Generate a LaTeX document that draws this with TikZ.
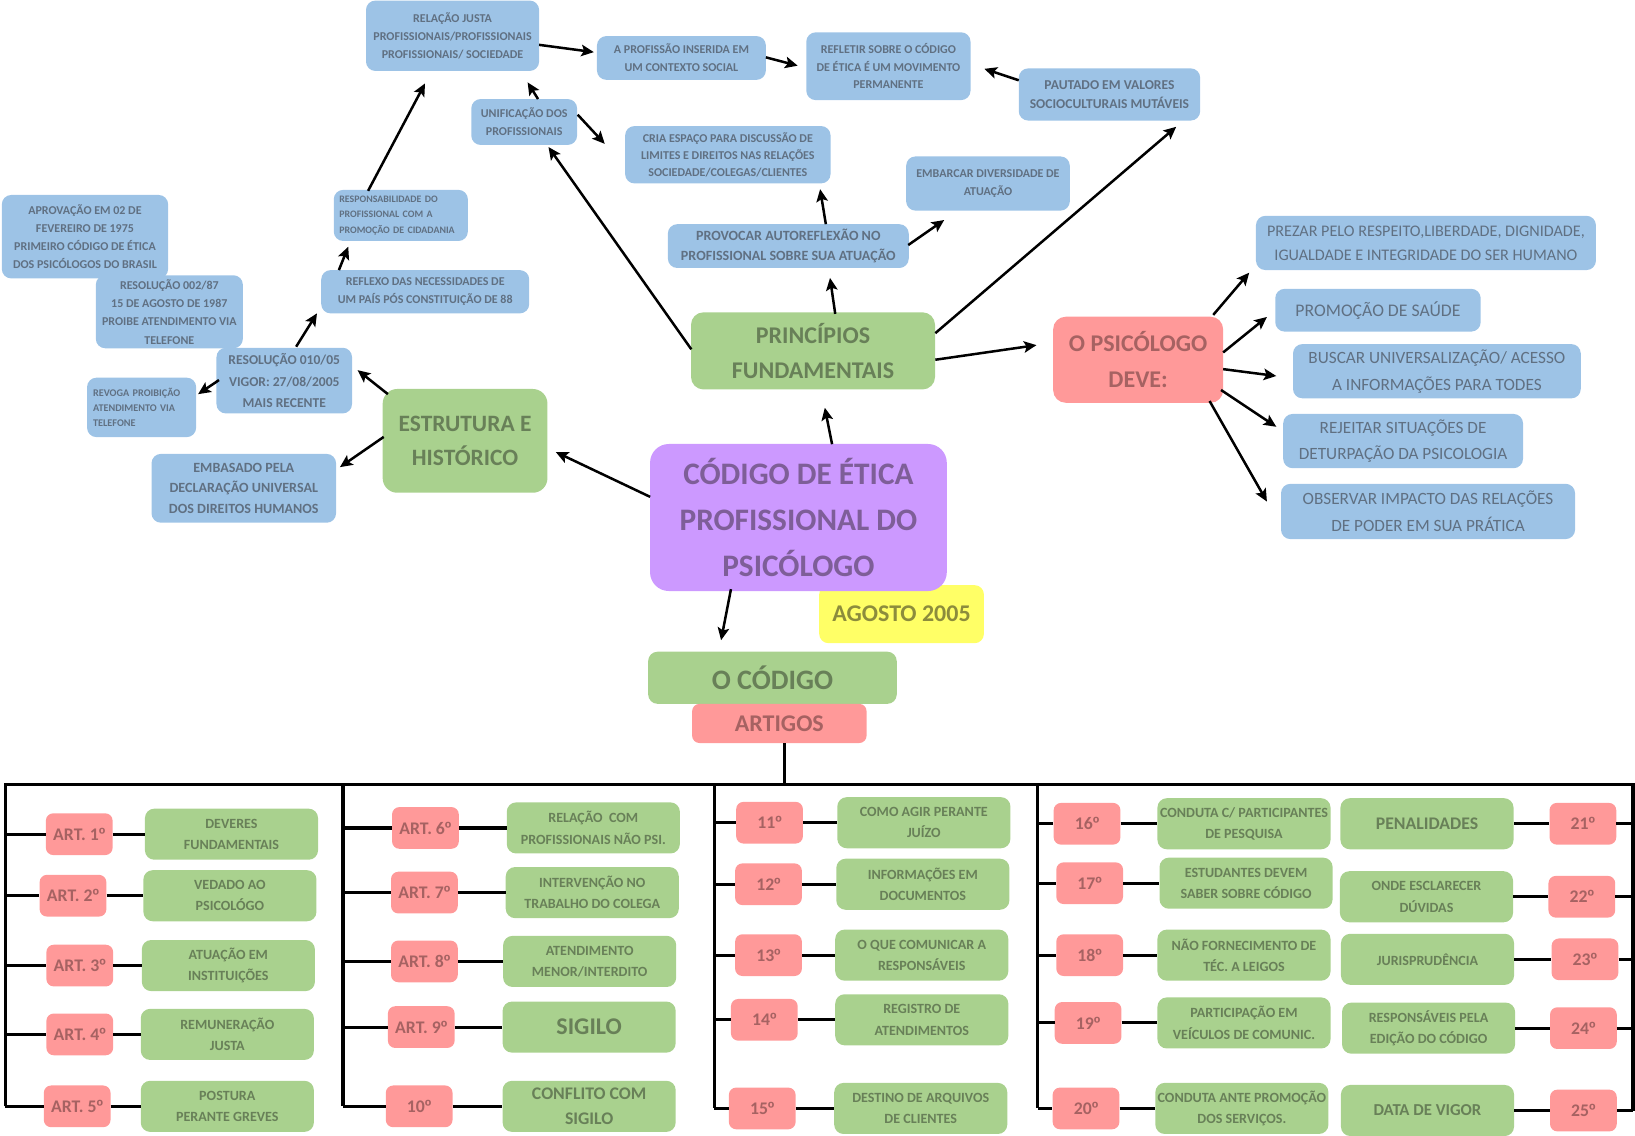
\documentclass[tikz,border=0pt]{standalone}
\usepackage{fontspec}
\setmainfont{Carlito}
\newfontfamily\ordfont{Liberation Sans}
\usepackage{tikz}
\usetikzlibrary{arrows.meta,calc}

\definecolor{azul}{RGB}{157,195,230}
\definecolor{azulT}{RGB}{96,112,130}
\definecolor{verde}{RGB}{169,209,142}
\definecolor{verdeT}{RGB}{104,128,88}
\definecolor{rosa}{RGB}{255,153,153}
\definecolor{rosaT}{RGB}{166,98,98}
\definecolor{lilas}{RGB}{204,153,255}
\definecolor{lilasT}{RGB}{126,94,152}
\definecolor{amarelo}{RGB}{255,255,102}
\definecolor{amareloT}{RGB}{140,140,60}

\newcommand{\fsz}[2]{\fontsize{#1}{#2}\selectfont}
\newcommand{\ordm}{{\ordfont º}}

\begin{document}
\begin{tikzpicture}[x=1pt,y=1pt,yscale=-1,
  caixa/.style={rounded corners=9pt, align=center, inner sep=0pt},
  tam/.style 2 args={minimum width=#1, minimum height=#2},
  azulbox/.style={caixa, fill=azul, text=azulT},
  verdebox/.style={caixa, fill=verde, text=verdeT},
  rosabox/.style={caixa, fill=rosa, text=rosaT},
  art/.style={rosabox, tam={64}{40}, rounded corners=7pt, font=\fsz{17}{20}\bfseries},
  desc/.style={verdebox, tam={166}{49}, font=\fsz{13.5}{20.5}\bfseries},
  seta/.style={line width=2.4pt, -{Stealth[length=12pt,width=11pt,inset=2.5pt]}},
  ramo/.style={line width=3pt}]
\useasboundingbox (0,0) rectangle (1568,1089);

%Shape: blue boxes, top
\node[azulbox, tam={166}{67.5}, font=\fsz{11.5}{17.5}\bfseries] (relacao) at (434,34.3) {RELAÇÃO JUSTA\\PROFISSIONAIS/PROFISSIONAIS\\PROFISSIONAIS/ SOCIEDADE};
\node[azulbox, tam={162}{42}, font=\fsz{11.5}{17}\bfseries] (profissao) at (653.5,55.6) {A PROFISSÃO INSERIDA EM\\UM CONTEXTO SOCIAL};
\node[azulbox, tam={157.5}{65}, font=\fsz{11.5}{17}\bfseries] (refletir) at (852,63.5) {REFLETIR SOBRE O CÓDIGO\\DE ÉTICA É UM MOVIMENTO\\PERMANENTE};
\node[azulbox, tam={174}{50}, font=\fsz{13}{18.5}\bfseries] (pautado) at (1064,90.6) {PAUTADO EM VALORES\\SOCIOCULTURAIS MUTÁVEIS};
\node[azulbox, tam={101.5}{44}, font=\fsz{11.5}{17.5}\bfseries] (unificacao) at (502.7,117) {UNIFICAÇÃO DOS\\PROFISSIONAIS};
\node[azulbox, tam={197}{55}, font=\fsz{11.5}{16}\bfseries] (criaespaco) at (698,148.4) {CRIA ESPAÇO PARA DISCUSSÃO DE\\LIMITES E DIREITOS NAS RELAÇÕES\\SOCIEDADE/COLEGAS/CLIENTES};
\node[azulbox, tam={157}{52}, font=\fsz{11.5}{17.3}\bfseries] (embarcar) at (947.5,176) {EMBARCAR DIVERSIDADE DE\\ATUAÇÃO};
\node[azulbox, tam={231}{42}, font=\fsz{13.5}{18.5}\bfseries] (provocar) at (756,236) {PROVOCAR AUTOREFLEXÃO NO\\PROFISSIONAL SOBRE SUA ATUAÇÃO};

%Shape: blue boxes, left
\node[azulbox, tam={159.5}{80}, font=\fsz{11.5}{17.4}\bfseries] (aprovacao) at (81.5,227) {APROVAÇÃO EM 02 DE\\FEVEREIRO DE 1975\\PRIMEIRO CÓDIGO DE ÉTICA\\DOS PSICÓLOGOS DO BRASIL};
\node[azulbox, tam={141}{70}, font=\fsz{11.5}{17.6}\bfseries] (resolucao87) at (162.4,299) {RESOLUÇÃO 002/87\\15 DE AGOSTO DE 1987\\PROIBE ATENDIMENTO VIA\\TELEFONE};
\node[azulbox, align=left, text width=118, inner xsep=5.3, minimum height=49, font=\fsz{9.5}{14.6}\bfseries] (responsab) at (384.4,206.6) {RESPONSABILIDADE DO\\PROFISSIONAL COM A\\PROMOÇÃO DE CIDADANIA};
\node[azulbox, tam={199.5}{41.5}, font=\fsz{11.5}{17.6}\bfseries] (reflexo) at (407.8,279.8) {REFLEXO DAS NECESSIDADES DE\\UM PAÍS PÓS CONSTITUIÇÃO DE 88};
\node[azulbox, tam={130}{63}, font=\fsz{13}{20.6}\bfseries] (resolucao05) at (272.6,365) {RESOLUÇÃO 010/05\\VIGOR: 27/08/2005\\MAIS RECENTE};
\node[azulbox, align=left, text width=93, inner xsep=5.8, minimum height=57, font=\fsz{9.8}{14.8}\bfseries] (revoga) at (135.8,390.7) {REVOGA PROIBIÇÃO\\ATENDIMENTO VIA\\TELEFONE};
\node[azulbox, tam={177}{66}, font=\fsz{13.5}{20}\bfseries] (embasado) at (233.8,468.3) {EMBASADO PELA\\DECLARAÇÃO UNIVERSAL\\DOS DIREITOS HUMANOS};

%Shape: blue boxes, right
\node[azulbox, tam={326}{52}, font=\fsz{15.5}{23}] (prezar) at (1367.5,233) {PREZAR PELO RESPEITO,LIBERDADE, DIGNIDADE,\\IGUALDADE E INTEGRIDADE DO SER HUMANO};
\node[azulbox, tam={197}{41}, font=\fsz{17}{25}] (promocao) at (1321.5,297.5) {PROMOÇÃO DE SAÚDE};
\node[azulbox, tam={276}{52}, font=\fsz{16.5}{26}] (buscar) at (1378,356) {BUSCAR UNIVERSALIZAÇÃO/ ACESSO\\A INFORMAÇÕES PARA TODES};
\node[azulbox, tam={230}{52}, font=\fsz{16.5}{25.5}] (rejeitar) at (1345.6,423) {REJEITAR SITUAÇÕES DE\\DETURPAÇÃO DA PSICOLOGIA};
\node[azulbox, tam={282}{53}, font=\fsz{16.5}{25.5}] (observar) at (1369.5,490.5) {OBSERVAR IMPACTO DAS RELAÇÕES\\DE PODER EM SUA PRÁTICA};

%Shape: main boxes
\node[verdebox, tam={158}{99.5}, rounded corners=14pt, font=\fsz{22.5}{33}\bfseries] (estrutura) at (446,422.8) {ESTRUTURA E\\HISTÓRICO};
\node[verdebox, tam={234}{74}, rounded corners=12pt, font=\fsz{23}{34}\bfseries] (principios) at (779.7,336.5) {PRINCÍPIOS\\FUNDAMENTAIS};
\node[rosabox, tam={163}{82.5}, rounded corners=12pt, font=\fsz{23}{35}\bfseries] (psicologo) at (1091.5,345) {O PSICÓLOGO\\DEVE:};
\node[caixa, fill=amarelo, text=amareloT, tam={158}{55.7}, font=\fsz{23}{28}\bfseries] (agosto) at (864.6,589) {AGOSTO 2005};
\node[caixa, fill=lilas, text=lilasT, tam={284.6}{141}, rounded corners=18pt, font=\fsz{30}{44.3}\bfseries] (codigo) at (765.7,496.3) {CÓDIGO DE ÉTICA\\PROFISSIONAL DO\\PSICÓLOGO};
\node[verdebox, tam={238.4}{50}, font=\fsz{27}{30}\bfseries] (ocodigo) at (740.8,650) {O CÓDIGO};
\node[rosabox, tam={167.3}{37.5}, rounded corners=7pt, font=\fsz{23}{26}\bfseries] (artigos) at (747.4,693.8) {ARTIGOS};

%Straight Lines
\draw[seta] ($(relacao)+(83,8.7)$) -- ($(profissao)+(-84,-5.6)$);
\draw[seta] ($(profissao)+(81,-0.6)$) -- ($(refletir)+(-87,-0.5)$);
\draw[seta] ($(pautado)+(-87,-13.6)$) -- ($(refletir)+(92,2.5)$);
\draw[seta] ($(unificacao)+(13.3,-22)$) -- ($(relacao)+(72,44.7)$);
\draw[seta] ($(unificacao)+(51.3,-7)$) -- ($(criaespaco)+(-118,-10.4)$);
\draw[seta] ($(principios)+(-116.7,-1.5)$) -- ($(unificacao)+(23.3,24)$);
\draw[seta] ($(principios)+(21.3,-35.5)$) -- ($(provocar)+(40,30.5)$);
\draw[seta] ($(provocar)+(36,-21)$) -- ($(criaespaco)+(88.5,33)$);
\draw[seta] ($(provocar)+(115,-1)$) -- ($(embarcar)+(-42,35)$);
\draw[seta] ($(principios)+(117.3,-17)$) -- ($(pautado)+(64,31)$);
\draw[seta] ($(principios)+(117.3,8.5)$) -- ($(psicologo)+(-97.5,-14)$);
\draw[seta] ($(codigo)+(32.3,-70.3)$) -- ($(principios)+(11.3,54.5)$);
\draw[seta] ($(codigo)+(-142.2,-19.8)$) -- ($(estrutura)+(87,10.7)$);
\draw[seta] ($(codigo)+(-64.7,68.7)$) -- ($(ocodigo)+(-49.3,-36)$);
\draw[seta] ($(estrutura)+(-74,-44.8)$) -- ($(resolucao05)+(70.4,-10)$);
\draw[seta] ($(estrutura)+(-78,-3.8)$) -- ($(embasado)+(92.2,-20.3)$);
\draw[seta] ($(resolucao05)+(-62.6,-0.5)$) -- ($(revoga)+(54.2,-12.7)$);
\draw[seta] ($(resolucao05)+(11.4,-32.5)$) -- ($(reflexo)+(-103.8,20.7)$);
\draw[seta] ($(reflexo)+(-82.8,-20.8)$) -- ($(responsab)+(-50.4,30)$);
\draw[seta] ($(responsab)+(-31.4,-23.6)$) -- ($(relacao)+(-26.4,45.7)$);
\draw[seta] ($(psicologo)+(72,-43)$) -- ($(prezar)+(-169.5,28.5)$);
\draw[seta] ($(psicologo)+(81.5,-7)$) -- ($(promocao)+(-106.5,6.5)$);
\draw[seta] ($(psicologo)+(81.5,9)$) -- ($(buscar)+(-154,4.6)$);
\draw[seta] ($(psicologo)+(79.5,29)$) -- ($(rejeitar)+(-121.6,-13.7)$);
\draw[seta] ($(psicologo)+(68.5,39.6)$) -- ($(observar)+(-154.5,-9.5)$);

% Text Node: articles 1-5
\node[art] (a1) at (76,800) {ART. 1\ordm};
\node[desc] (d1) at (222,800) {DEVERES\\FUNDAMENTAIS};
\node[art] (a2) at (70,859) {ART. 2\ordm};
\node[desc] (d2) at (220.5,859) {VEDADO AO\\PSICOLÓGO};
\node[art] (a3) at (76.5,926) {ART. 3\ordm};
\node[desc] (d3) at (219,926) {ATUAÇÃO EM\\INSTITUIÇÕES};
\node[art] (a4) at (76.5,992) {ART. 4\ordm};
\node[desc] (d4) at (218,992) {REMUNERAÇÃO\\JUSTA};
\node[art] (a5) at (74,1061) {ART. 5\ordm};
\node[desc] (d5) at (218,1061) {POSTURA\\PERANTE GREVES};

% Text Node: articles 6-10
\node[art] (a6) at (408,794) {ART. 6\ordm};
\node[desc] (d6) at (569,794) {RELAÇÃO\ \ COM\\PROFISSIONAIS NÃO PSI.};
\node[art] (a7) at (407,856) {ART. 7\ordm};
\node[desc] (d7) at (568,856) {INTERVENÇÃO NO\\TRABALHO DO COLEGA};
\node[art] (a8) at (407,922) {ART. 8\ordm};
\node[desc] (d8) at (565.5,922) {ATENDIMENTO\\MENOR/INTERDITO};
\node[art] (a9) at (404,985) {ART. 9\ordm};
\node[desc, font=\fsz{23}{26}\bfseries] (d9) at (565,985) {SIGILO};
\node[art] (a10) at (402,1061) {10\ordm};
\node[desc, font=\fsz{17}{24}\bfseries] (d10) at (565,1061) {CONFLITO COM\\SIGILO};

% Text Node: articles 11-15
\node[art] (a11) at (738,789) {11\ordm};
\node[desc] (d11) at (886,789) {COMO AGIR PERANTE\\JUÍZO};
\node[art] (a12) at (737,848) {12\ordm};
\node[desc] (d12) at (885,848) {INFORMAÇÕES EM\\DOCUMENTOS};
\node[art] (a13) at (737,916) {13\ordm};
\node[desc] (d13) at (884,916) {O QUE COMUNICAR A\\RESPONSÁVEIS};
\node[art] (a14) at (733,978) {14\ordm};
\node[desc] (d14) at (884,978) {REGISTRO DE\\ATENDIMENTOS};
\node[art] (a15) at (731,1063) {15\ordm};
\node[desc] (d15) at (883,1063) {DESTINO DE ARQUIVOS\\DE CLIENTES};

% Text Node: articles 16-20
\node[art] (a16) at (1042.5,790) {16\ordm};
\node[desc] (d16) at (1193,790) {CONDUTA C/ PARTICIPANTES\\DE PESQUISA};
\node[art] (a17) at (1045,847) {17\ordm};
\node[desc] (d17) at (1195,847) {ESTUDANTES DEVEM\\SABER SOBRE CÓDIGO};
\node[art] (a18) at (1045,916) {18\ordm};
\node[desc] (d18) at (1193,916) {NÃO FORNECIMENTO DE\\TÉC. A LEIGOS};
\node[art] (a19) at (1043.5,981) {19\ordm};
\node[desc] (d19) at (1193,981) {PARTICIPAÇÃO EM\\VEÍCULOS DE COMUNIC.};
\node[art] (a20) at (1041.5,1063) {20\ordm};
\node[desc] (d20) at (1191,1063) {CONDUTA ANTE PROMOÇÃO\\DOS SERVIÇOS.};

% Text Node: articles 21-25
\node[desc, font=\fsz{17}{20}\bfseries] (d21) at (1368.5,790) {PENALIDADES};
\node[art] (a21) at (1518,790) {21\ordm};
\node[desc] (d22) at (1368,860) {ONDE ESCLARECER\\DÚVIDAS};
\node[art] (a22) at (1517,860) {22\ordm};
\node[desc] (d23) at (1369,920) {JURISPRUDÊNCIA};
\node[art] (a23) at (1520,920) {23\ordm};
\node[desc] (d24) at (1370,986) {RESPONSÁVEIS PELA\\EDIÇÃO DO CÓDIGO};
\node[art] (a24) at (1518.5,986) {24\ordm};
\node[desc, font=\fsz{16}{20}\bfseries] (d25) at (1369,1065) {DATA DE VIGOR};
\node[art] (a25) at (1518.5,1065) {25\ordm};

%Straight Lines: tree of articles
\coordinate (topoE) at (5,752);
\coordinate (topoD) at (1566,752);
\coordinate (tronco) at (752,752);
\coordinate (colB) at (329,752);
\coordinate (colC) at (685,752);
\coordinate (colD) at (995,752);
\draw[ramo] (artigos.south -| tronco) -- (tronco);
\draw[ramo] (a5 -| topoE) -- (topoE) -- (topoD) -- (topoD |- a25);
\draw[ramo] (colB) -- (colB |- a10);
\draw[ramo] (colC) -- (colC |- a15);
\draw[ramo] (colD) -- (colD |- a20);

\draw[ramo] (a1 -| topoE) -- (a1.west) (a1.east) -- (d1.west);
\draw[ramo] (a2 -| topoE) -- (a2.west) (a2.east) -- (d2.west);
\draw[ramo] (a3 -| topoE) -- (a3.west) (a3.east) -- (d3.west);
\draw[ramo] (a4 -| topoE) -- (a4.west) (a4.east) -- (d4.west);
\draw[ramo] (a5 -| topoE) -- (a5.west) (a5.east) -- (d5.west);

\draw[ramo] (a6 -| colB) -- (a6.west) (a6.east) -- (d6.west);
\draw[ramo] (a7 -| colB) -- (a7.west) (a7.east) -- (d7.west);
\draw[ramo] (a8 -| colB) -- (a8.west) (a8.east) -- (d8.west);
\draw[ramo] (a9 -| colB) -- (a9.west) (a9.east) -- (d9.west);
\draw[ramo] (a10 -| colB) -- (a10.west) (a10.east) -- (d10.west);

\draw[ramo] (a11 -| colC) -- (a11.west) (a11.east) -- (d11.west);
\draw[ramo] (a12 -| colC) -- (a12.west) (a12.east) -- (d12.west);
\draw[ramo] (a13 -| colC) -- (a13.west) (a13.east) -- (d13.west);
\draw[ramo] (a14 -| colC) -- (a14.west) (a14.east) -- (d14.west);
\draw[ramo] (a15 -| colC) -- (a15.west) (a15.east) -- (d15.west);

\draw[ramo] (a16 -| colD) -- (a16.west) (a16.east) -- (d16.west);
\draw[ramo] (a17 -| colD) -- (a17.west) (a17.east) -- (d17.west);
\draw[ramo] (a18 -| colD) -- (a18.west) (a18.east) -- (d18.west);
\draw[ramo] (a19 -| colD) -- (a19.west) (a19.east) -- (d19.west);
\draw[ramo] (a20 -| colD) -- (a20.west) (a20.east) -- (d20.west);

\draw[ramo] (d21.east) -- (a21.west) (a21.east) -- (a21 -| topoD);
\draw[ramo] (d22.east) -- (a22.west) (a22.east) -- (a22 -| topoD);
\draw[ramo] (d23.east) -- (a23.west) (a23.east) -- (a23 -| topoD);
\draw[ramo] (d24.east) -- (a24.west) (a24.east) -- (a24 -| topoD);
\draw[ramo] (d25.east) -- (a25.west) (a25.east) -- (a25 -| topoD);

\end{tikzpicture}
\end{document}
